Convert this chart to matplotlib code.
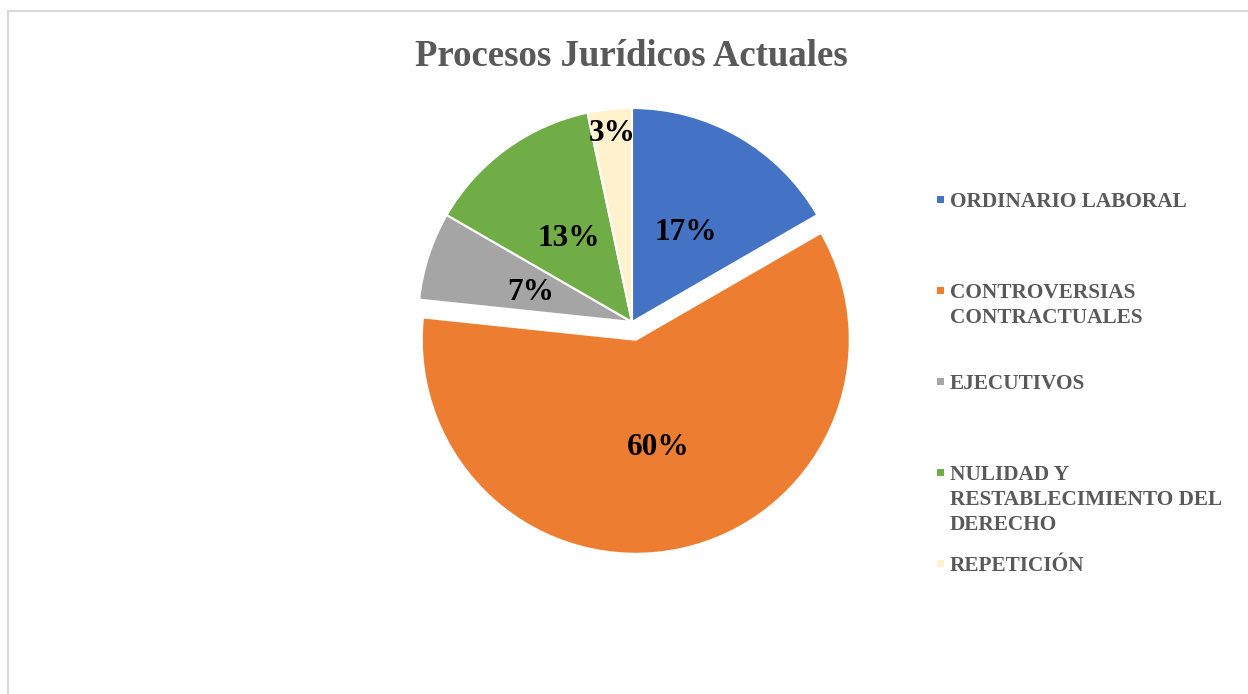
import matplotlib
matplotlib.use("Agg")
import matplotlib.pyplot as plt
from matplotlib.patches import Rectangle
from matplotlib.lines import Line2D
import numpy as np

# Datos (conteos de procesos)
categorias = ['ORDINARIO LABORAL', 'CONTROVERSIAS\nCONTRACTUALES', 'EJECUTIVOS',
              'NULIDAD Y\nRESTABLECIMIENTO DEL\nDERECHO', 'REPETICIÓN']
valores = [5, 18, 2, 4, 1]
colores = ['#4472C4', '#ED7D31', '#A5A5A5', '#70AD47', '#FFF2CC']
separacion = [0, 0.085, 0, 0, 0]

W, H = 1248, 694
plt.rcParams['font.family'] = ['Liberation Serif', 'DejaVu Serif']

fig = plt.figure(figsize=(W / 100, H / 100), dpi=100)

# Borde gris claro (solo arriba e izquierda visibles)
fig.add_artist(Line2D([8 / W, 8 / W], [0, 1 - 11 / H], color='#D9D9D9', lw=1.5,
                      transform=fig.transFigure))
fig.add_artist(Line2D([8 / W, 1], [1 - 11 / H, 1 - 11 / H], color='#D9D9D9', lw=1.5,
                      transform=fig.transFigure))

# Eje del pastel: centro (632, 322) px, radio 214 px
R, lim = 214, 1.2
lado = 2 * lim * R
cx, cy = 632, H - 322
ax = fig.add_axes([(cx - lado / 2) / W, (cy - lado / 2) / H, lado / W, lado / H])

wedges, texts, autotexts = ax.pie(
    valores, colors=colores, explode=separacion, startangle=90, counterclock=False,
    autopct=lambda p: f'{p:.0f}%', pctdistance=0.5,
    wedgeprops=dict(edgecolor='white', linewidth=1.5),
    textprops=dict(fontsize=22.5, fontweight='bold', color='black'))
ax.set_xlim(-lim, lim)
ax.set_ylim(-lim, lim)
ax.set_aspect('equal')
ax.axis('off')

for t in autotexts:
    t.set_va('center_baseline')

# La etiqueta del 3% va más afuera
w = wedges[4]
ang = np.deg2rad((w.theta1 + w.theta2) / 2)
autotexts[4].set_position((0.9 * np.cos(ang), 0.9 * np.sin(ang)))

# Título
fig.text(631 / W, 1 - 56 / H, 'Procesos Jurídicos Actuales', ha='center', va='center',
         fontsize=26.5, fontweight='bold', color='#595959')

# Leyenda manual
for i, (cat, col) in enumerate(zip(categorias, colores)):
    base = 207 + 91 * i
    fig.patches.append(Rectangle((937 / W, 1 - (base - 4) / H), 7 / W, 7 / H,
                                 facecolor=col, edgecolor='none',
                                 transform=fig.transFigure, figure=fig))
    for j, linea in enumerate(cat.split('\n')):
        fig.text(950 / W, 1 - (base + 25 * j) / H, linea, ha='left', va='baseline',
                 fontsize=15.3, fontweight='bold', color='#595959')

fig.savefig('out.png', dpi=100)
